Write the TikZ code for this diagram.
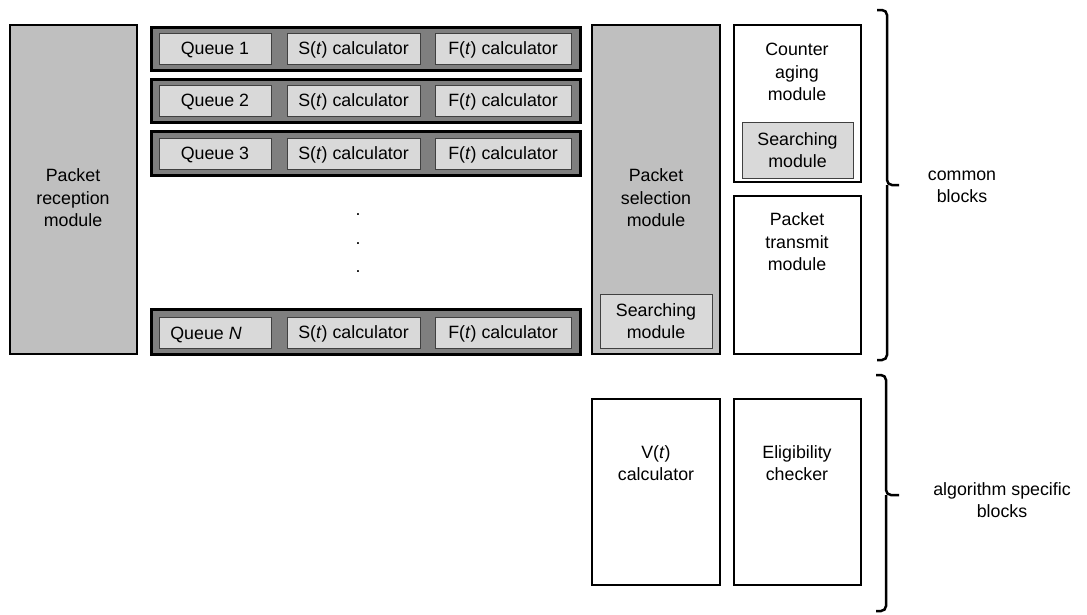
\documentclass[tikz,border=0pt]{standalone}
\usepackage{fontspec}
\setmainfont{Liberation Sans}
\usetikzlibrary{fit}
\definecolor{blockgray}{HTML}{BFBFBF}
\definecolor{rowgray}{HTML}{7F7F7F}
\definecolor{cellgray}{HTML}{D9D9D9}
\definecolor{cellline}{HTML}{404040}
\begin{document}
\begin{tikzpicture}[x=1pt,y=-1pt,
  font=\fontsize{17.8}{22.5}\selectfont,
  bigblock/.style={draw=black, line width=2pt, inner sep=0pt},
  greyblock/.style={bigblock, fill=blockgray},
  whiteblock/.style={bigblock, fill=white},
  qrow/.style={draw=black, line width=3pt, fill=rowgray, inner sep=0pt},
  cell/.style={draw=cellline, line width=1pt, fill=cellgray, inner sep=0pt},
  txt/.style={align=center, inner sep=0pt},
  celltxt/.style={txt, yshift=-1.5pt},
  bracepath/.style={line width=2.5pt, rounded corners=5pt}]
\useasboundingbox (0,0) rectangle (1087,614);

% reception module
\node[greyblock, fit={(10,25) (137,354)}] (recv) {};
\node[txt] (recvtxt) at (73,198) {Packet\\reception\\module};

% queue rows
\foreach \r/\ya/\yb/\ca/\cb in {1/27/70/33/64, 2/79/122/85/116, 3/131/175/138/169, 4/309/354/317/348} {
  \node[qrow, fit={(151,\ya) (580,\yb)}] (row\r) {};
  \node[cell, fit={(159,\ca) (271,\cb)}] (queue\r) {};
  \node[cell, fit={(287,\ca) (420,\cb)}] (scalc\r) {};
  \node[cell, fit={(435,\ca) (571,\cb)}] (fcalc\r) {};
  \node[celltxt] (stxt\r) at (scalc\r.center) {S(\textit{t}) calculator};
  \node[celltxt] (ftxt\r) at (fcalc\r.center) {F(\textit{t}) calculator};
}
\node[celltxt] (q1) at (queue1.center) {Queue 1};
\node[celltxt] (q2) at (queue2.center) {Queue 2};
\node[celltxt] (q3) at (queue3.center) {Queue 3};
\node[celltxt] (qn) at (206,333) {Queue \textit{N}};

% vertical ellipsis
\foreach \d/\y in {1/215, 2/244, 3/272}
  \node[txt] (dot\d) at (358,\y) {.};

% selection module
\node[greyblock, fit={(592,25) (720,354)}] (sel) {};
\node[txt] (seltxt) at (656,198) {Packet\\selection\\module};
\node[cell, fit={(600,294) (712,348)}] (selsearch) {};
\node[txt] (selsearchtxt) at (selsearch.center) {Searching\\module};

% counter aging module
\node[whiteblock, fit={(734,25) (861,182)}] (aging) {};
\node[txt] (agingtxt) at (797,72) {Counter\\aging\\module};
\node[cell, fit={(742,122) (853,178)}] (agesearch) {};
\node[txt] (agesearchtxt) at (agesearch.center) {Searching\\module};

% transmit module
\node[whiteblock, fit={(734,196) (861,354)}] (tx) {};
\node[txt] (txtxt) at (797,242) {Packet\\transmit\\module};

% algorithm specific modules
\node[whiteblock, fit={(592,399) (720,585)}] (vcalc) {};
\node[txt] (vcalctxt) at (656,463) {V(\textit{t})\\calculator};
\node[whiteblock, fit={(734,399) (861,585)}] (elig) {};
\node[txt] (eligtxt) at (797,463) {Eligibility\\checker};

% braces
\coordinate (b1top) at (877,10);
\coordinate (b1tip) at (899,185);
\coordinate (b1bot) at (877,360);
\draw[bracepath] (b1top) -- (887,10) -- (887,185) -- (b1tip);
\draw[bracepath] (b1bot) -- (887,360) -- (887,185);
\node[txt] (common) at (962,187) {common\\blocks};

\coordinate (b2top) at (876,375);
\coordinate (b2tip) at (899,495);
\coordinate (b2bot) at (876,611);
\draw[bracepath] (b2top) -- (886,375) -- (886,495) -- (b2tip);
\draw[bracepath] (b2bot) -- (886,611) -- (886,495);
\node[txt] (algo) at (1002,500) {algorithm specific\\blocks};
\end{tikzpicture}
\end{document}
